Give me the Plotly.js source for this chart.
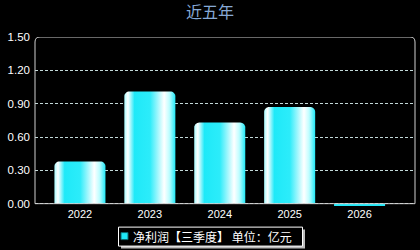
<!DOCTYPE html>
<html>
<head>
<meta charset="utf-8">
<script src="https://cdn.plot.ly/plotly-3.0.1.min.js"></script>
<style>html,body{margin:0;padding:0;background:#000;}#chart{width:420px;height:250px;}</style>
</head>
<body>
<div id="chart"></div>
<script>
var years = ['2022', '2023', '2024', '2025', '2026'];
var profit = [0.38, 1.01, 0.73, 0.87, -0.02];
var seriesName = '净利润【三季度】 单位：亿元';
var yTicks = [0, 0.3, 0.6, 0.9, 1.2, 1.5];

var W = 420, H = 250;
var yRange = [-0.03, 1.5];
var topPx = 37, zeroPx = 204;
var pxY = (zeroPx - topPx) / yRange[1];
var ph = pxY * (yRange[1] - yRange[0]);
var M = {l: 35, r: 5, t: topPx, b: H - topPx - ph, autoexpand: false};
var pw = W - M.l - M.r;
var xRange = [-0.643, 4.793];
var barW = 0.73;
var pxX = pw / (xRange[1] - xRange[0]);
var rad = 5;
var rx = rad / pxX, ry = rad / pxY;

var cyan = '#1fe9f8';
var grad = [[0, '#a8fbff'], [0.07, '#ffffff'], [0.2, cyan], [0.5, '#2cecfa'], [0.78, '#ffffff'], [0.88, '#c0fdff'], [1, cyan]];

var idx = years.map(function (_, i) { return i; });
var traces = [{
  type: 'bar', x: idx, y: profit, width: barW, name: seriesName,
  marker: {color: profit.map(function (v) { return v > 0 ? 'rgba(0,0,0,0)' : cyan; }), line: {width: 0}},
  hoverinfo: 'skip', showlegend: false
}];

profit.forEach(function (v, i) {
  if (v <= 0) return;
  var x0 = i - barW / 2, x1 = i + barW / 2;
  var xs = [x0], ys = [0];
  var n = 8, k;
  for (k = 0; k <= n; k++) {
    var a = Math.PI - (Math.PI / 2) * (k / n);
    xs.push(x0 + rx + rx * Math.cos(a)); ys.push(v - ry + ry * Math.sin(a));
  }
  for (k = 0; k <= n; k++) {
    var b = Math.PI / 2 - (Math.PI / 2) * (k / n);
    xs.push(x1 - rx + rx * Math.cos(b)); ys.push(v - ry + ry * Math.sin(b));
  }
  xs.push(x1); ys.push(0);
  traces.push({
    type: 'scatter', mode: 'none', x: xs, y: ys, fill: 'toself',
    fillgradient: {type: 'horizontal', colorscale: grad},
    showlegend: false, hoverinfo: 'skip'
  });
});

// frame: paper x, data y (bottom edge at y = 0)
var frx = rad / pw, fry = rad / pxY, yt = yRange[1];
var framePath = 'M 0,0 L 0,' + (yt - fry) + ' Q 0,' + yt + ' ' + frx + ',' + yt +
  ' L ' + (1 - frx) + ',' + yt + ' Q 1,' + yt + ' 1,' + (yt - fry) + ' L 1,0 Z';

function px2x(p) { return (p - M.l) / pw; }
function px2y(p) { return (M.t + ph - p) / ph; }

var layout = {
  width: W, height: H,
  margin: M,
  paper_bgcolor: '#000', plot_bgcolor: '#000',
  font: {family: 'Liberation Sans, Arial, Noto Sans CJK SC, sans-serif', color: '#ffffff', size: 11},
  title: {text: '近五年', x: 0.5, xanchor: 'center', y: 0.95, yanchor: 'middle',
    font: {family: 'Noto Sans CJK SC, sans-serif', size: 16, color: '#86a9d6'}},
  xaxis: {range: xRange, tickmode: 'array', tickvals: idx, ticktext: years,
    showgrid: false, zeroline: false, showline: false, ticks: '', fixedrange: true,
    ticklabelstandoff: -1,
    tickfont: {size: 11, color: '#ffffff'}},
  yaxis: {range: yRange, tickmode: 'array', tickvals: yTicks, ticktext: yTicks.map(function (t) { return t.toFixed(2); }),
    showgrid: true, gridcolor: 'rgba(215,240,240,0.9)', griddash: '3px,2px', gridwidth: 1,
    zeroline: false, showline: false, ticks: '', ticklabelstandoff: 4, fixedrange: true,
    tickfont: {size: 11.5, color: '#ffffff'}},
  showlegend: false,
  annotations: [{
    xref: 'paper', yref: 'paper', x: px2x(131), y: px2y(236.5), xanchor: 'left', yanchor: 'middle',
    text: seriesName, showarrow: false,
    font: {family: 'Noto Sans CJK SC, sans-serif', size: 12, color: '#ffffff'}
  }],
  shapes: [
    {type: 'rect', xref: 'paper', yref: 'paper', x0: px2x(121), x1: px2x(305), y0: px2y(249), y1: px2y(230),
      fillcolor: '#bbbbbb', line: {width: 0}, layer: 'above'},
    {type: 'rect', xref: 'paper', yref: 'paper', x0: px2x(118.5), x1: px2x(302.5), y0: px2y(246.5), y1: px2y(227.5),
      fillcolor: '#000000', line: {color: '#ffffff', width: 1}, layer: 'above'},
    {type: 'rect', xref: 'paper', yref: 'paper', x0: px2x(121), x1: px2x(128), y0: px2y(240), y1: px2y(233),
      fillcolor: cyan, line: {color: '#0a6a70', width: 1}, layer: 'above'},
    {type: 'path', xref: 'paper', yref: 'y', path: framePath, line: {color: '#d0d0d0', width: 1}, layer: 'above'}
  ]
};

Plotly.newPlot('chart', traces, layout, {staticPlot: true, displayModeBar: false});
</script>
</body>
</html>
